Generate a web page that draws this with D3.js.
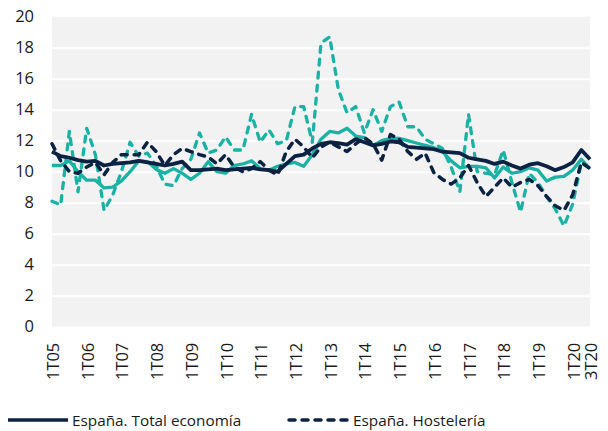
<!DOCTYPE html>
<html>
<head>
<meta charset="utf-8">
<script src="https://cdn.jsdelivr.net/npm/d3@7"></script>
<style>
  body { margin: 0; background: #fff; }
  svg { display: block; font-family: "Open Sans", sans-serif; }
</style>
</head>
<body>
<svg id="chart"></svg>
<script>
// quarters 1T05 .. 3T20
const years = ['05','06','07','08','09','10','11','12','13','14','15','16','17','18','19','20']
const categories = years.flatMap(y => [1, 2, 3, 4].map(q => q + 'T' + y)).slice(0, 63)
const tickLabels = ['1T05','1T06','1T07','1T08','1T09','1T10','1T11','1T12','1T13','1T14','1T15','1T16','1T17','1T18','1T19','1T20','3T20']
const yTicks = [0, 2, 4, 6, 8, 10, 12, 14, 16, 18, 20]

const espanaTotal = [
  11.3, 11.0, 10.9, 10.75, 10.65, 10.7, 10.4, 10.5, 10.55, 10.6,
  10.7, 10.6, 10.5, 10.4, 10.5, 10.65, 10.1, 10.1, 10.15, 10.2,
  10.1, 10.15, 10.2, 10.25, 10.15, 10.1, 10.0, 10.5, 11.0, 11.1,
  11.5, 11.8, 11.9, 11.85, 11.75, 12.1, 11.9, 11.7, 11.8, 11.95,
  11.9, 11.6, 11.55, 11.5, 11.45, 11.3, 11.25, 11.2, 10.9, 10.8,
  10.7, 10.5, 10.65, 10.4, 10.2, 10.45, 10.55, 10.35, 10.1, 10.3,
  10.6, 11.4, 10.8
]
const espanaHosteleria = [
  11.8, 10.7, 10.0, 9.9, 10.3, 10.6, 9.8, 10.6, 11.1, 11.1,
  11.1, 11.9, 11.3, 10.4, 11.1, 11.5, 11.3, 11.1, 10.95, 10.5,
  11.1, 10.3, 10.0, 10.2, 10.65, 10.1, 9.8, 11.3, 12.1, 11.6,
  10.9, 11.6, 11.9, 11.6, 11.3, 11.8, 12.2, 11.8, 10.75, 12.4,
  12.1, 11.3, 10.8, 11.2, 9.95, 9.5, 9.2, 9.6, 10.4, 9.3,
  8.4, 9.0, 9.6, 9.0, 9.3, 9.5, 9.1, 8.4, 7.8, 7.5,
  8.5, 10.6, 10.2
]
const regionTotal = [
  10.4, 10.4, 10.7, 10.0, 9.45, 9.45, 8.95, 9.0, 9.4, 10.0,
  10.7, 10.65, 10.15, 9.9, 10.2, 9.9, 9.5, 9.9, 10.65, 10.0,
  9.9, 10.4, 10.5, 10.7, 10.2, 10.1, 10.35, 10.5, 10.6, 10.35,
  11.1, 12.1, 12.6, 12.5, 12.8, 12.3, 12.2, 11.7, 12.0, 12.15,
  12.15, 12.0, 11.85, 11.7, 11.55, 11.3, 10.7, 10.25, 10.35, 10.35,
  10.25, 9.6, 10.3, 9.9, 10.0, 10.25, 10.1, 9.4, 9.65, 9.7,
  10.1, 10.8, 10.2
]
const regionHosteleria = [
  8.1, 7.85, 12.6, 8.7, 12.8, 11.1, 7.5, 8.5, 10.0, 11.9,
  11.0, 11.2, 10.4, 9.2, 9.1, 10.2, 10.8, 12.5, 11.2, 11.4,
  12.25, 11.4, 11.4, 13.7, 11.9, 12.7, 11.8, 12.0, 14.2, 14.2,
  11.9, 18.3, 18.7, 15.3, 13.8, 14.2, 12.5, 14.0, 12.6, 14.2,
  14.5, 12.9, 12.9, 12.1, 11.8, 11.5, 10.3, 8.7, 13.7, 10.0,
  9.9, 9.8, 11.4, 9.3, 7.4, 9.9, 9.3, 8.4, 7.6, 6.5,
  7.9, 10.6, 10.2
]

const navy = '#0b2242'
const teal = '#19b2a5'

// setting up container
    const width = 608
    const height = 431
    const margin = {top: 16.7, right: 18, bottom: 104.3, left: 52}
    const plotW = width - margin.left - margin.right
    const plotH = height - margin.top - margin.bottom

    const svg = d3.select('#chart')
        .attr('width', width)
        .attr('height', height)

    const g = svg.append('g')
        .attr('transform', `translate(${margin.left}, ${margin.top})`)

// set up scales
    const xScale = d3.scalePoint()
        .domain(categories)
        .range([0, plotW])
    const yScale = d3.scaleLinear()
        .domain([0, 20])
        .range([plotH, 0])

// plot background + grid lines
    g.append('rect')
        .attr('width', plotW)
        .attr('height', plotH)
        .attr('fill', '#f2f2f2')

    const yGrid = d3.axisRight(yScale)
        .tickValues(yTicks.slice(1, -1))
        .tickSize(plotW)
        .tickFormat('')
    g.append('g')
        .call(yGrid)
        .call(s => s.select('.domain').remove())
        .selectAll('line')
            .attr('stroke', '#fff')
            .attr('stroke-width', 2)

// axes
    const yAxis = d3.axisLeft(yScale)
        .tickValues(yTicks)
        .tickSize(0)
        .tickPadding(18)
    g.append('g')
        .call(yAxis)
        .call(s => s.select('.domain').remove())
        .selectAll('text')
            .attr('fill', '#1a1a1a')
            .style('font-size', '16.5px')
            .style('font-family', '"Open Sans", sans-serif')

    const xAxis = d3.axisBottom(xScale)
        .tickValues(tickLabels)
        .tickSize(0)
    g.append('g')
        .attr('transform', `translate(0, ${plotH})`)
        .call(xAxis)
        .call(s => s.select('.domain').remove())
        .selectAll('text')
            .attr('fill', '#1a1a1a')
            .style('font-size', '16.5px')
            .style('font-family', '"Open Sans", sans-serif')
            .attr('text-anchor', 'end')
            .attr('dy', null)
            .attr('y', 0)
            .attr('dominant-baseline', 'central')
            .attr('transform', 'translate(0, 16)rotate(-90)')

// lines
    const line = d3.line()
        .x((d, i) => xScale(categories[i]))
        .y(d => yScale(d))

    const series = [
        {values: regionHosteleria, color: teal, width: 3.3, dash: '6,7'},
        {values: regionTotal, color: teal, width: 3.3, dash: null},
        {values: espanaHosteleria, color: navy, width: 3.5, dash: '6,7'},
        {values: espanaTotal, color: navy, width: 3.8, dash: null}
    ]

    g.selectAll('.serie')
        .data(series)
        .enter()
        .append('path')
            .attr('class', 'serie')
            .attr('d', d => line(d.values))
            .attr('fill', 'none')
            .attr('stroke', d => d.color)
            .attr('stroke-width', d => d.width)
            .attr('stroke-linejoin', 'round')
            .attr('stroke-linecap', d => d.dash ? 'round' : 'butt')
            .attr('stroke-dasharray', d => d.dash)

// legend
    const legendItems = [
        {label: 'España. Total economía', color: navy, dash: null, x: 8},
        {label: 'España. Hostelería', color: navy, dash: '6,7', x: 289}
    ]
    const legend = svg.selectAll('.legend')
        .data(legendItems)
        .enter()
        .append('g')
            .attr('class', 'legend')
            .attr('transform', d => `translate(${d.x}, 420)`)
    legend.append('line')
        .attr('x1', 0)
        .attr('x2', 60)
        .attr('stroke', d => d.color)
        .attr('stroke-width', 3.5)
        .attr('stroke-linecap', d => d.dash ? 'round' : 'butt')
        .attr('stroke-dasharray', d => d.dash)
    legend.append('text')
        .attr('x', 64)
        .attr('dominant-baseline', 'central')
        .attr('fill', '#1a1a1a')
        .style('font-size', '15.3px')
        .text(d => d.label)
</script>
</body>
</html>
